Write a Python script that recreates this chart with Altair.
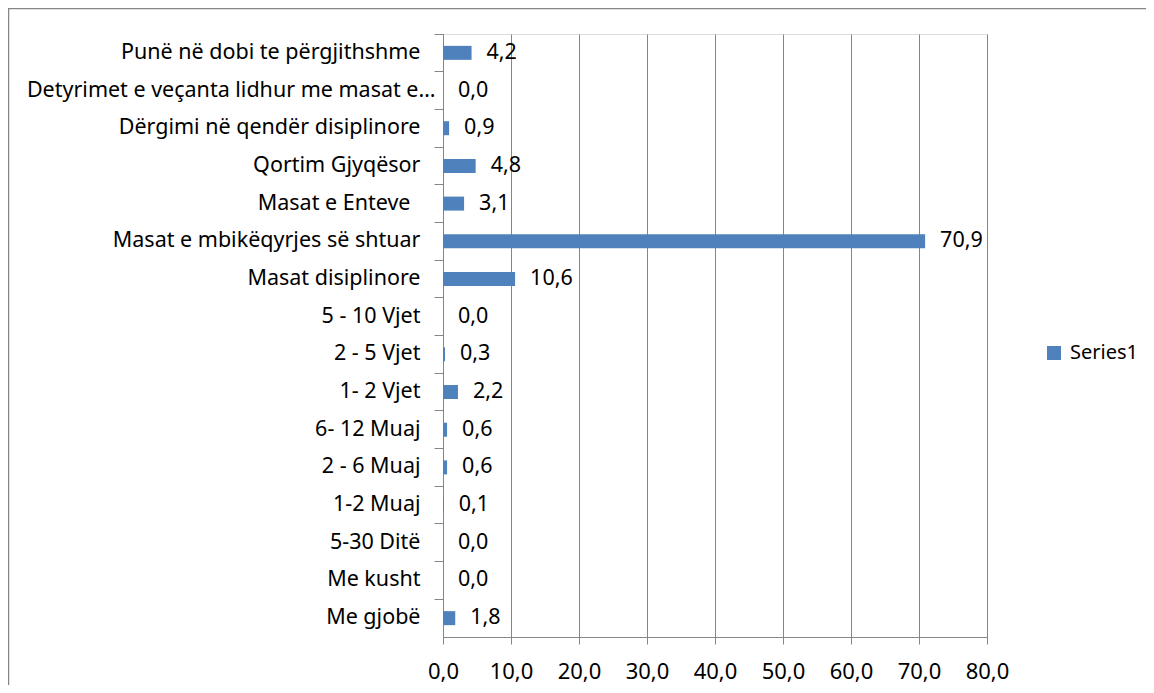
import altair as alt
import pandas as pd

categories = [
    "Punë në dobi te përgjithshme",
    "Detyrimet e veçanta lidhur me masat e…",
    "Dërgimi në qendër disiplinore",
    "Qortim Gjyqësor",
    "Masat e Enteve",
    "Masat e mbikëqyrjes së shtuar",
    "Masat disiplinore",
    "5 - 10 Vjet",
    "2 -  5 Vjet",
    "1-  2 Vjet",
    "6- 12 Muaj",
    "2 -  6 Muaj",
    "1-2 Muaj",
    "5-30 Ditë",
    "Me kusht",
    "Me gjobë",
]
values = [4.2, 0.0, 0.9, 4.8, 3.1, 70.9, 10.6, 0.0, 0.3, 2.2, 0.6, 0.6, 0.1, 0.0, 0.0, 1.8]
series_name = "Series1"
x_ticks = [0, 10, 20, 30, 40, 50, 60, 70, 80]

df = pd.DataFrame({
    "cat": categories,
    "val": values,
    "lbl": [f"{v:.1f}".replace(".", ",") for v in values],
    "series": [series_name] * len(values),
})

FONT = "Noto Sans"
GRAY = "#868686"
BLUE = "#4F81BD"

y_enc = alt.Y(
    "cat:N",
    sort=categories,
    title=None,
    scale=alt.Scale(paddingInner=0, paddingOuter=0),
    axis=alt.Axis(
        bandPosition=0,
        domainColor=GRAY,
        tickColor=GRAY,
        tickSize=9,
        labelPadding={
            "condition": [
                {"test": "indexof(datum.value, 'Detyrimet') == 0", "value": -1},
                {"test": "datum.value == 'Masat e Enteve'", "value": 24},
            ],
            "value": 14,
        },
        labelFont=FONT,
        labelFontSize=21.5,
        labelColor="#000000",
        labelLimit=600,
        grid=False,
    ),
)
x_enc = alt.X(
    "val:Q",
    title=None,
    scale=alt.Scale(domain=[0, 80], nice=False),
    axis=alt.Axis(
        values=x_ticks,
        labelExpr="replace(format(datum.value, '.1f'), '.', ',')",
        labelFlush=False,
        labelOverlap=False,
        domainColor=GRAY,
        tickColor=GRAY,
        gridColor=GRAY,
        grid=True,
        tickSize=7,
        labelPadding=17,
        labelFont=FONT,
        labelFontSize=22,
        labelColor="#000000",
    ),
)

base = alt.Chart(df)

bars = base.mark_bar(size=14).encode(
    y=y_enc,
    x=x_enc,
    color=alt.Color(
        "series:N",
        scale=alt.Scale(domain=[series_name], range=[BLUE]),
        legend=alt.Legend(
            title=None,
            orient="none",
            legendX=601,
            legendY=309,
            symbolType="square",
            symbolSize=196,
            symbolStrokeWidth=0,
            labelFont=FONT,
            labelFontSize=20,
            labelColor="#000000",
            padding=0,
            labelOffset=6,
        ),
    ),
)

labels = base.mark_text(align="left", baseline="middle", dx=15, font=FONT, fontSize=21.5, color="#000000").encode(
    y=alt.Y("cat:N", sort=categories),
    x="val:Q",
    text="lbl:N",
)

frame = alt.Chart(alt.Data(values=[{"f": 1}])).mark_rect(
    filled=False, stroke=GRAY, strokeWidth=1.5
).encode(
    x=alt.value(-434.5), x2=alt.value(900), y=alt.value(-25.5), y2=alt.value(900)
)

chart = alt.layer(frame, bars, labels).properties(
    width=544,
    height=603,
    padding={"left": 435, "top": 26, "right": 159, "bottom": 48},
    autosize=alt.AutoSizeParams(type="none"),
).configure_view(stroke=None).configure(background="white")

chart.save("out.html", embed_options={"renderer": "svg", "actions": False})
